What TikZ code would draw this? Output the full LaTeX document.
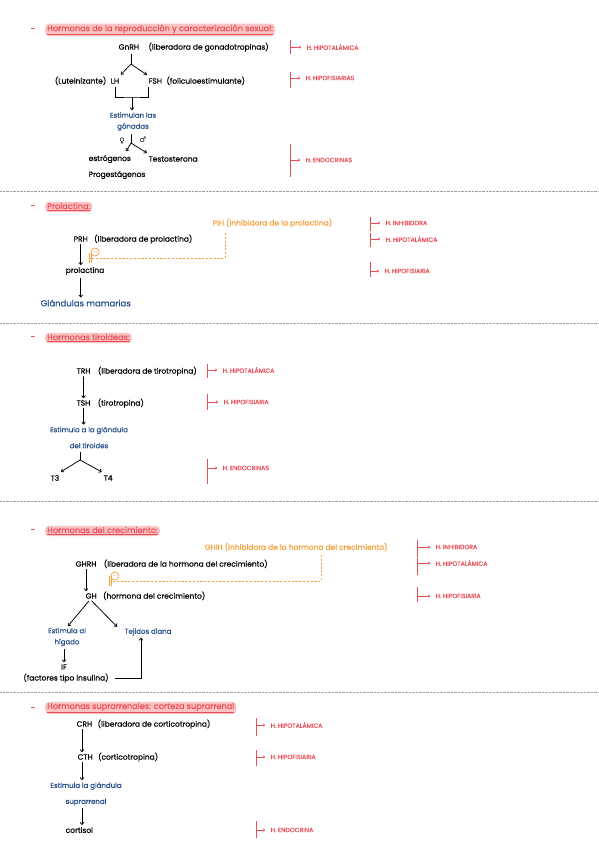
\documentclass[tikz,border=0pt]{standalone}
\usepackage{fontspec}
\setmainfont{Poppins}
\newfontfamily\hand[FakeBold=0.4]{Poppins}
\newfontfamily\symfont{DejaVu Sans}
\usepackage{xcolor}
\usetikzlibrary{positioning,arrows.meta}
\definecolor{Rose}{RGB}{236,78,88}
\definecolor{Blush}{RGB}{250,196,196}
\definecolor{Amber}{RGB}{246,162,62}
\definecolor{Navy}{RGB}{38,78,138}

\begin{document}
\begin{tikzpicture}[x=1pt,y=-1pt,
  txt/.style={anchor=west,inner sep=0.5pt,text=black,font=\hand\fontsize{7.5}{9}\selectfont},
  desc/.style={txt,base right=#1},
  note/.style={inner sep=0.5pt,text=Navy,align=center,font=\hand\fontsize{7}{11}\selectfont},
  inhib/.style={txt,text=Amber},
  title/.style={anchor=west,inner xsep=2pt,inner ysep=1pt,fill=Blush,rounded corners=4pt,
                text=Rose,font=\hand\fontsize{8.2}{9}\selectfont},
  bullet/.style={text=Rose,inner sep=0pt,font=\hand\fontsize{9}{9}\selectfont},
  kind/.style={anchor=west,inner sep=0.5pt,text=Rose,font=\hand\fontsize{6.2}{7}\selectfont},
  sym/.style={inner sep=0pt,font=\symfont\fontsize{7.5}{7.5}\selectfont},
  line/.style={line width=0.75pt},
  arr/.style={line,-{To[length=2.8pt,width=4.2pt]},shorten <=2pt,shorten >=1.5pt},
  brace/.style={Rose,line width=0.75pt},
  kindarr/.style={brace,-{To[length=2pt,width=3pt]},shorten >=5pt},
  feed/.style={Amber,line width=0.8pt,dash pattern=on 2.2pt off 1.6pt,
               -{Bar[width=10pt,sep=0.8pt]Bar[width=10pt]}},
  minus/.style={draw=Amber,circle,line width=0.7pt,inner sep=0pt,minimum size=6.5pt,
                text=Amber,font=\fontsize{7}{7}\selectfont},
  sep/.style={gray!75,line width=0.5pt,dash pattern=on 0.6pt off 0.8pt}
]
\useasboundingbox[fill=white] (0,0) rectangle (599,848);

\node[bullet] (d1) at (33,30) {-};
\node[title] (t1) at (45,30) {\underline{Hormonas de la reproducción y caracterización sexual:}};
\node[txt] (gnrh) at (118,47) {GnRH};
\node[desc=8pt of gnrh] (gnrhd) {(liberadora de gonadotropinas)};
\node[txt] (lh) at (110,81) {LH};
\node[txt,base left=3pt of lh] (lhd) {(Luteinizante)};
\node[txt] (fsh) at (148,81) {FSH};
\node[desc=3pt of fsh] (fshd) {(foliculoestimulante)};
\coordinate (j1) at (131,64);
\draw[line] ([yshift=-4pt]gnrh.south -| j1) -- (j1);
\draw[arr,shorten <=0pt] (j1) -- ([yshift=2pt]lh.north east);
\draw[arr,shorten <=0pt] (j1) -- ([yshift=2pt]fsh.north west);
\coordinate (j2) at (132,97);
\draw[line] ([yshift=-3pt]lh.south) |- (j2) -| ([xshift=0pt,yshift=-3pt]fsh.south west);
\node[note] (gona) at (133,121.5) {Estimulan las\\gónadas};
\draw[arr,shorten <=0pt] (j2) -- (gona.north -| j2);
\coordinate (j3) at (131,143);
\node[txt] (estr) at (88,159) {estrógenos};
\node[txt] (test) at (148,159) {Testosterona};
\node[txt] (prog) at (88,175) {Progestágenos};
\draw[line] ([yshift=-3pt]gona.south -| j3) -- (j3);
\draw[arr,shorten <=0pt] (j3) -- ([xshift=-6pt,yshift=2pt]estr.north east);
\draw[arr,shorten <=0pt] (j3) -- ([yshift=2pt]test.north west);
\node[sym] (fem) at (122,141) {♀};
\node[sym] (mal) at (143,140) {♂};

\node[kind] (k1a) at (306,47) {H. HIPOTALÁMICA};
\coordinate (b1a) at (290,40);
\draw[brace] (b1a) -- ++(0,14);
\draw[kindarr] (b1a |- k1a) -- (k1a);
\node[kind] (k1b) at (305,78) {H. HIPOFISIARIAS};
\coordinate (b1b) at (290,72);
\draw[brace] (b1b) -- ++(0,16);
\draw[kindarr] (b1b |- k1b) -- (k1b);
\node[kind] (k1c) at (305,160) {H. ENDOCRINAS};
\coordinate (b1c) at (290,144);
\draw[brace] (b1c) -- ++(0,33);
\draw[kindarr] (b1c |- k1c) -- (k1c);

\coordinate (s1) at (0,191);
\draw[sep] (s1) -- ++(599,0);

\node[bullet] (d2) at (33,207) {-};
\node[title] (t2) at (45,207) {\underline{Prolactina:}};
\node[inhib] (pih) at (212,223) {PIH (inhibidora de la prolactina)};
\node[txt] (prh) at (73,239) {PRH};
\node[desc=5pt of prh] (prhd) {(liberadora de prolactina)};
\node[txt] (prl) at (65,271) {prolactina};
\node[txt,font=\hand\fontsize{8.5}{10}\selectfont,text=Navy] (glm) at (40,303) {Glándulas mamarias};
\draw[arr] (prh.south) -- (prh.south |- prl.north);
\draw[arr] (prl.south -| prh) -- (prh |- glm.north);
\coordinate (f2) at (225,233);
\coordinate (inh2) at (89,258);
\draw[feed] (f2) |- (inh2);
\node[minus] (m2) at (95,252) {$-$};

\node[kind] (k2a) at (385,223) {H. INHIBIDORA};
\coordinate (b2a) at (370,217);
\draw[brace] (b2a) -- ++(0,14);
\draw[kindarr] (b2a |- k2a) -- (k2a);
\node[kind] (k2b) at (385,239) {H. HIPOTALÁMICA};
\coordinate (b2b) at (370,233);
\draw[brace] (b2b) -- ++(0,14);
\draw[kindarr] (b2b |- k2b) -- (k2b);
\node[kind] (k2c) at (384,271) {H. HIPOFISIARIA};
\coordinate (b2c) at (370,262);
\draw[brace] (b2c) -- ++(0,15);
\draw[kindarr] (b2c |- k2c) -- (k2c);

\coordinate (s2) at (0,323);
\draw[sep] (s2) -- ++(599,0);

\node[bullet] (d3) at (33,338) {-};
\node[title] (t3) at (45,338) {\underline{Hormonas tiroideas:}};
\node[txt] (trh) at (76,371) {TRH};
\node[desc=6pt of trh] (trhd) {(liberadora de tirotropina)};
\node[txt] (tsh) at (76,403) {TSH};
\node[desc=6pt of tsh] (tshd) {(tirotropina)};
\draw[arr] (trh) -- (tsh);
\node[note,font=\hand\fontsize{7}{16}\selectfont] (tir) at (89,437.5) {Estimula a la glándula\\del tiroides};
\draw[arr] (tsh) -- (tsh |- tir.north);
\coordinate (j4) at (80,460);
\node[txt] (t3n) at (50,478) {T3};
\node[txt] (t4n) at (103,478) {T4};
\draw[line] ([yshift=-3pt]tir.south -| j4) -- (j4);
\draw[arr,shorten <=0pt] (j4) -- ([yshift=2pt]t3n.north east);
\draw[arr,shorten <=0pt] (j4) -- ([yshift=2pt]t4n.north west);

\node[kind] (k3a) at (222,370) {H. HIPOTALÁMICA};
\coordinate (b3a) at (207,364);
\draw[brace] (b3a) -- ++(0,14);
\draw[kindarr] (b3a |- k3a) -- (k3a);
\node[kind] (k3b) at (223,402) {H. HIPOFISIARIA};
\coordinate (b3b) at (207,394);
\draw[brace] (b3b) -- ++(0,16);
\draw[kindarr] (b3b |- k3b) -- (k3b);
\node[kind] (k3c) at (222,468) {H. ENDOCRINAS};
\coordinate (b3c) at (207,459);
\draw[brace] (b3c) -- ++(0,25);
\draw[kindarr] (b3c |- k3c) -- (k3c);

\coordinate (s3) at (0,501);
\draw[sep] (s3) -- ++(599,0);

\node[bullet] (d4) at (33,531) {-};
\node[title] (t4) at (45,531) {\underline{Hormonas del crecimiento:}};
\node[inhib] (ghih) at (204,547) {GHIH (inhibidora de la hormona del crecimiento)};
\node[txt] (ghrh) at (75,564) {GHRH};
\node[desc=6pt of ghrh] (ghrhd) {(liberadora de la hormona del crecimiento)};
\node[txt] (gh) at (85,596) {GH};
\node[desc=5pt of gh] (ghd) {(hormona del crecimiento)};
\draw[arr] (ghrh.south) -- (ghrh.south |- gh.north);
\coordinate (f4) at (321,555);
\coordinate (inh4) at (109,581);
\draw[feed] (f4) |- (inh4);
\node[minus] (m4) at (115,576) {$-$};
\node[note] (liv) at (67,637) {Estimula al\\hígado};
\node[txt,text=Navy,font=\hand\fontsize{7}{9}\selectfont] (tej) at (124,632) {Tejidos diana};
\draw[arr] ([xshift=-1pt]gh.south) -- (liv.north);
\draw[arr] ([xshift=-1pt]gh.south) -- ([xshift=-6pt]tej.north west);
\node[txt,anchor=center] (igf) at (64,667) {IF};
\node[txt,anchor=center] (igfd) at (66,678) {(factores tipo insulina)};
\draw[arr] (liv.south -| igf) -- (igf.north);
\draw[arr] ([xshift=4pt]igfd.east) -| ([xshift=-7pt]tej.south);

\node[kind] (k4a) at (435,547) {H. INHIBIDORA};
\coordinate (b4a) at (417,540);
\draw[brace] (b4a) -- ++(0,17);
\draw[kindarr] (b4a |- k4a) -- (k4a);
\node[kind] (k4b) at (435,563) {H. HIPOTALÁMICA};
\coordinate (b4b) at (417,558);
\draw[brace] (b4b) -- ++(0,17);
\draw[kindarr] (b4b |- k4b) -- (k4b);
\node[kind] (k4c) at (435,596) {H. HIPOFISIARIA};
\coordinate (b4c) at (417,587);
\draw[brace] (b4c) -- ++(0,15);
\draw[kindarr] (b4c |- k4c) -- (k4c);

\coordinate (s4) at (0,692);
\draw[sep] (s4) -- ++(599,0);

\node[bullet] (d5) at (33,709) {-};
\node[title] (t5) at (45,708) {\underline{Hormonas suprarrenales: corteza suprarrenal}};
\node[txt] (crh) at (76,724) {CRH};
\node[desc=4pt of crh] (crhd) {(liberadora de corticotropina)};
\node[txt] (cth) at (77,757) {CTH};
\node[desc=4pt of cth] (cthd) {(corticotropina)};
\coordinate (a5) at (82,740);
\draw[arr] (crh.south -| a5) -- (a5 |- cth.north);
\node[note,font=\hand\fontsize{7}{16}\selectfont] (sup) at (86,794) {Estimula la glándula\\suprarrenal};
\node[txt] (cor) at (65,830) {cortisol};
\draw[arr] (cth.south -| a5) -- (a5 |- sup.north);
\draw[arr] (sup.south -| a5) -- (a5 |- cor.north);

\node[kind] (k5a) at (270,725) {H. HIPOTALÁMICA};
\coordinate (b5a) at (256,718);
\draw[brace] (b5a) -- ++(0,18);
\draw[kindarr] (b5a |- k5a) -- (k5a);
\node[kind] (k5b) at (270,757) {H. HIPOFISIARIA};
\coordinate (b5b) at (256,750);
\draw[brace] (b5b) -- ++(0,16);
\draw[kindarr] (b5b |- k5b) -- (k5b);
\node[kind] (k5c) at (270,830) {H. ENDOCRINA};
\coordinate (b5c) at (256,821);
\draw[brace] (b5c) -- ++(0,17);
\draw[kindarr] (b5c |- k5c) -- (k5c);
\end{tikzpicture}
\end{document}
